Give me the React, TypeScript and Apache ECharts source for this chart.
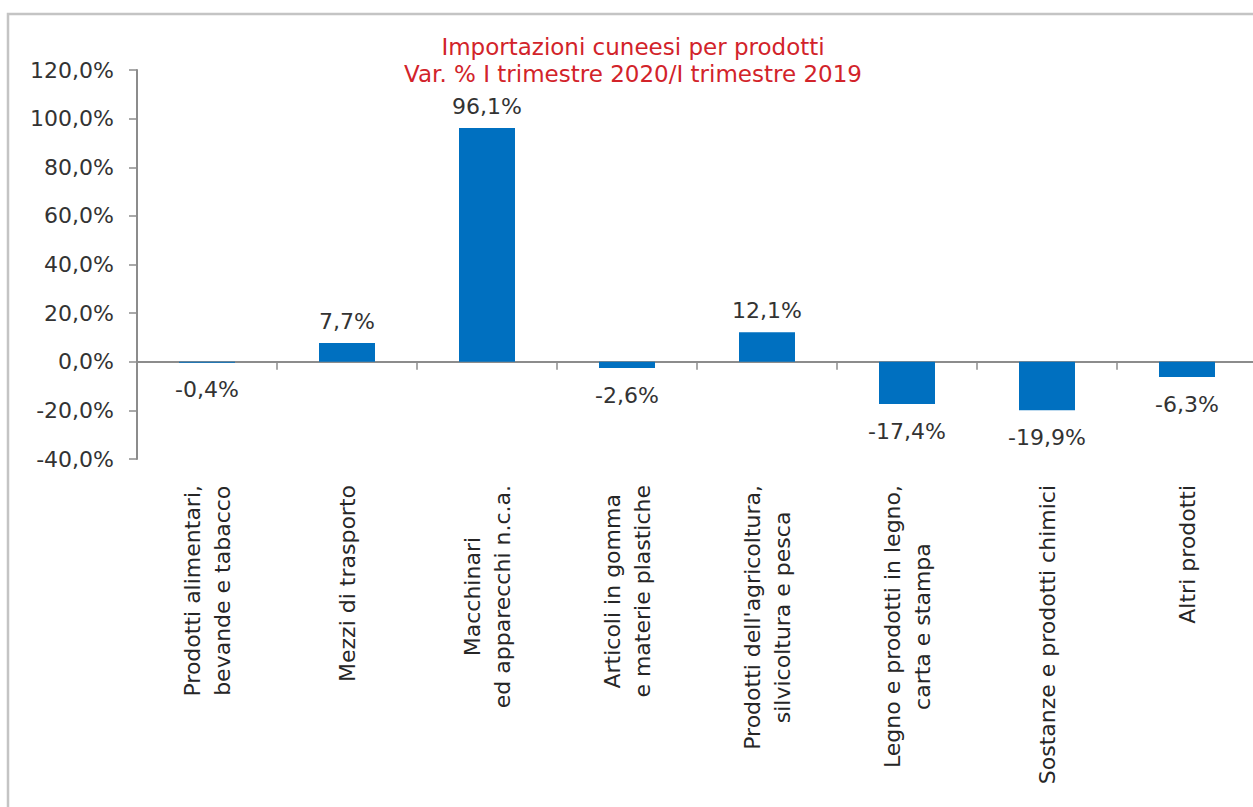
import React, { useEffect, useRef } from "react";
import * as echarts from "echarts";

const categories: string[][] = [
  ["Prodotti alimentari,", "bevande e tabacco"],
  ["Mezzi di trasporto"],
  ["Macchinari", "ed apparecchi n.c.a."],
  ["Articoli in gomma", "e materie plastiche"],
  ["Prodotti dell'agricoltura,", "silvicoltura e pesca"],
  ["Legno e prodotti in legno,", "carta e stampa"],
  ["Sostanze e prodotti chimici"],
  ["Altri prodotti"],
];
const values: number[] = [-0.4, 7.7, 96.1, -2.6, 12.1, -17.4, -19.9, -6.3];
const titleLines: string[] = [
  "Importazioni cuneesi per prodotti",
  "Var. % I trimestre 2020/I trimestre 2019",
];

const FONT = "DejaVu Sans";
const fmt = (v: number) => v.toFixed(1).replace(".", ",") + "%";

export default function App() {
  const ref = useRef<HTMLDivElement>(null);
  useEffect(() => {
    if (!ref.current) return;
    const chart = echarts.init(ref.current, undefined, { renderer: "svg" });
    chart.setOption({
      animation: false,
      title: {
        text: titleLines.join("\n"),
        left: 628,
        textAlign: "center",
        top: 28,
        textStyle: {
          color: "#D2232A",
          fontFamily: FONT,
          fontWeight: "normal",
          fontSize: 23,
          lineHeight: 27,
        },
      },
      graphic: [
        {
          type: "rect",
          shape: { x: 8, y: 14, width: 1300, height: 900 },
          style: { fill: "none", stroke: "#C4C4C4", lineWidth: 2.5 },
          silent: true,
        },
      ],
      grid: { left: 137, top: 70, width: 1120, height: 389, outerBoundsMode: "none", containLabel: false },
      xAxis: {
        type: "category",
        data: categories.map((c) => c.join("\n")),
        axisLine: { onZero: true, lineStyle: { color: "#8C8C8C", width: 2 } },
        axisTick: { show: true, length: 8, inside: false, lineStyle: { color: "#8C8C8C", width: 1.5 } },
        axisLabel: {
          rotate: 90,
          margin: 26,
          interval: 0,
          align: "right",
          formatter: (v: string) => v.split("\n").map((l) => `{c|${l}}`).join("\n"),
          rich: {
            c: {
              align: "center",
              fontFamily: FONT,
              fontSize: 22,
              color: "#262626",
              lineHeight: 30,
            },
          },
        },
      },
      yAxis: {
        type: "value",
        min: -40,
        max: 120,
        interval: 20,
        splitLine: { show: false },
        axisLine: { show: true, lineStyle: { color: "#8C8C8C", width: 2 } },
        axisTick: { show: true, length: 8, lineStyle: { color: "#8C8C8C", width: 1.5 } },
        axisLabel: {
          margin: 23,
          fontFamily: FONT,
          fontSize: 22,
          color: "#333333",
          formatter: (v: number) => fmt(v),
        },
      },
      series: [
        {
          type: "bar",
          barWidth: "40%",
          itemStyle: { color: "#0070C0" },
          label: {
            show: true,
            position: "top",
            distance: 11,
            fontFamily: FONT,
            fontSize: 22,
            color: "#333333",
            formatter: (p: any) => fmt(p.value),
          },
          data: values.map((v) =>
            v < 0 ? { value: v, label: { position: "bottom", distance: 16 } } : { value: v }
          ),
        },
      ],
    });
    return () => chart.dispose();
  }, []);
  return (
    <div
      ref={ref}
      style={{ position: "absolute", left: 0, top: 0, width: 1253, height: 807 }}
    />
  );
}
